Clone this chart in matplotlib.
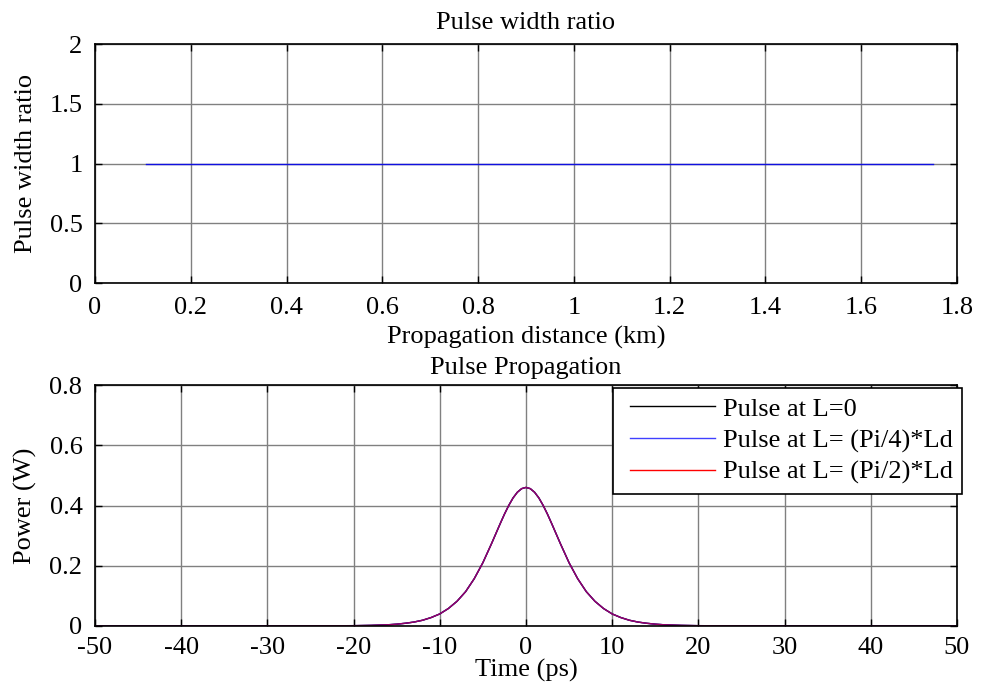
import matplotlib
matplotlib.use("Agg")
import matplotlib.pyplot as plt
from matplotlib.legend_handler import HandlerLine2D
import numpy as np

plt.rcParams['font.family'] = ['Liberation Serif', 'DejaVu Serif']
plt.rcParams['axes.unicode_minus'] = False

# ---- data: top panel (pulse width ratio) ----
dist_km = [0.107, 0.3, 0.5, 0.7, 0.9, 1.1, 1.3, 1.5, 1.75]
width_ratio = [1.0, 1.0, 1.0, 1.0, 1.0, 1.0, 1.0, 1.0, 1.0]

# ---- data: bottom panel (pulse power) ----
time_ps = [-50, -30, -20, -18, -16, -15, -14, -13, -12, -11, -10, -9, -8, -7, -6, -5,
           -4, -3, -2.5, -2, -1.5, -1, -0.5, 0, 0.5, 1, 1.5, 2, 2.5, 3, 4, 5, 6, 7, 8,
           9, 10, 11, 12, 13, 14, 15, 16, 18, 20, 30, 50]
power_L0 = [0.0, 0.0, 0.001, 0.002, 0.004, 0.006, 0.009, 0.013, 0.019, 0.028, 0.040,
            0.058, 0.082, 0.114, 0.157, 0.210, 0.273, 0.339, 0.371, 0.400, 0.425,
            0.444, 0.456, 0.460, 0.456, 0.444, 0.425, 0.400, 0.371, 0.339, 0.273,
            0.210, 0.157, 0.114, 0.082, 0.058, 0.040, 0.028, 0.019, 0.013, 0.009,
            0.006, 0.004, 0.002, 0.001, 0.0, 0.0]
power_Lq = list(power_L0)
power_Lh = list(power_L0)

legend_labels = ['Pulse at L=0', 'Pulse at L= (Pi/4)*Ld', 'Pulse at L= (Pi/2)*Ld']

FS = 19
fig = plt.figure(figsize=(9.82, 6.91), dpi=100)
ax1 = fig.add_axes([0.0967, 0.5904, 0.8778, 0.3459])
ax2 = fig.add_axes([0.0967, 0.0941, 0.8778, 0.3487])

grid_kw = dict(color='#808080', linewidth=1.0, linestyle='-')

for ax in (ax1, ax2):
    ax.grid(True, **grid_kw)
    ax.set_axisbelow(True)
    ax.tick_params(direction='in', top=True, right=True, length=5, width=1,
                   labelsize=FS)
    ax.tick_params(axis='y', pad=9)
    for s in ax.spines.values():
        s.set_linewidth(1.2)
ax1.tick_params(axis='x', pad=10)
ax2.tick_params(axis='x', pad=8)

ax1.plot(dist_km, width_ratio, color='#1010e0', linewidth=1.0)
ax1.set_xlim(0, 1.8)
ax1.set_ylim(0, 2)
ax1.set_xticks(np.arange(0, 1.81, 0.2))
ax1.set_xticklabels(['0', '0.2', '0.4', '0.6', '0.8', '1', '1.2', '1.4', '1.6', '1.8'])
ax1.set_yticks([0, 0.5, 1, 1.5, 2])
ax1.set_yticklabels(['0', '0.5', '1', '1.5', '2'])
ax1.set_title('Pulse width ratio', fontsize=FS, pad=11)
ax1.set_xlabel('Propagation distance (km)', fontsize=FS, labelpad=5)
ax1.set_ylabel('Pulse width ratio', fontsize=FS, labelpad=9)

l0, = ax2.plot(time_ps, power_L0, color='black', linewidth=1.0)
l1, = ax2.plot(time_ps, power_Lq, color='#0000ff', linewidth=1.0)
l2, = ax2.plot(time_ps, power_Lh, color='#ff0000', linewidth=1.0, alpha=0.6)
ax2.set_xlim(-50, 50)
ax2.set_ylim(0, 0.8)
ax2.set_xticks(np.arange(-50, 51, 10))
ax2.set_yticks([0, 0.2, 0.4, 0.6, 0.8])
ax2.set_yticklabels(['0', '0.2', '0.4', '0.6', '0.8'])
ax2.set_title('Pulse Propagation', fontsize=FS, pad=8)
ax2.set_xlabel('Time (ps)', fontsize=FS, labelpad=0)
ax2.set_ylabel('Power (W)', fontsize=FS, labelpad=9)

h1, = ax2.plot([], [], color='#4040ff', linewidth=1.0)
h2, = ax2.plot([], [], color='#ff0000', linewidth=1.0)
hmap = {h: HandlerLine2D(xpad=0.3) for h in (l0, h1, h2)}
leg = ax2.legend([l0, h1, h2], legend_labels, loc='upper right', fontsize=FS,
                 bbox_to_anchor=(962 / 982, 1 - 388 / 691),
                 bbox_transform=fig.transFigure, handler_map=hmap,
                 frameon=True, fancybox=False, shadow=False, framealpha=1,
                 edgecolor='black', borderaxespad=0.0, handlelength=3.5,
                 borderpad=0.35, labelspacing=0.3, handletextpad=0.3)
leg.get_frame().set_linewidth(1.2)

fig.savefig('out.png', dpi=100)
